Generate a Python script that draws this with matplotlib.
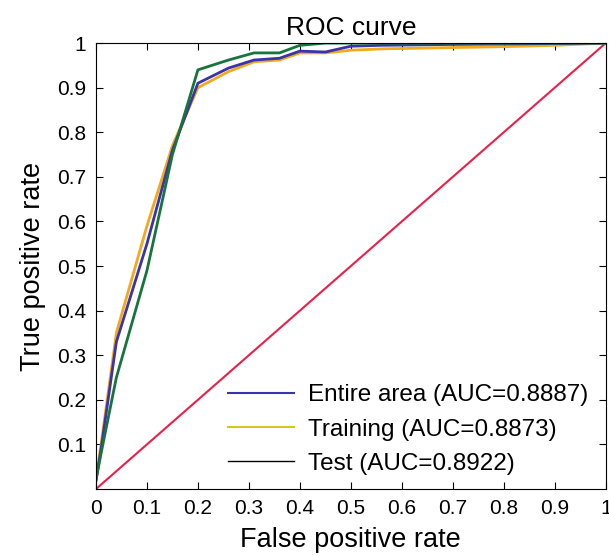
import matplotlib
matplotlib.use('Agg')
import matplotlib.pyplot as plt
from matplotlib.lines import Line2D

plt.rcParams['font.family'] = ['Liberation Sans', 'DejaVu Sans']

# ROC points
fpr = [0, 0.01, 0.04, 0.1, 0.15, 0.2, 0.26, 0.31, 0.36, 0.40, 0.45, 0.5, 0.56, 0.7, 0.8, 0.9, 1.0]
tpr_entire = [0.02, 0.09, 0.33, 0.55, 0.76, 0.91, 0.944, 0.962, 0.966, 0.982, 0.98, 0.993, 0.995, 0.997, 0.998, 0.999, 1.0]
tpr_train = [0.02, 0.10, 0.35, 0.59, 0.77, 0.90, 0.936, 0.958, 0.962, 0.978, 0.978, 0.984, 0.987, 0.99, 0.992, 0.995, 1.0]
tpr_test = [0.02, 0.08, 0.25, 0.49, 0.75, 0.94, 0.962, 0.978, 0.978, 0.995, 1.0, 1.0, 1.0, 1.0, 1.0, 1.0, 1.0]
labels = ['Entire area (AUC=0.8887)', 'Training (AUC=0.8873)', 'Test (AUC=0.8922)']

fig = plt.figure(figsize=(6.09, 5.56), dpi=100)
ax = fig.add_axes([0.1576, 0.1205, 0.837, 0.802])

ax.plot([0, 1], [0, 1], color='#e8204a', lw=1.5)
ax.plot(fpr, tpr_train, color='#f4a81c', lw=2)
ax.plot(fpr, tpr_entire, color='#3b34a8', lw=2)
ax.plot(fpr, tpr_test, color='#17743c', lw=2)

ax.set_xlim(0, 1)
ax.set_ylim(0, 1)
ax.set_xticks([i / 10 for i in range(11)])
ax.set_xticklabels(['0'] + ['0.%d' % i for i in range(1, 10)] + ['1'])
ax.set_yticks([i / 10 for i in range(1, 11)])
ax.set_yticklabels(['0.%d' % i for i in range(1, 10)] + ['1'])
ax.tick_params(direction='in', length=5, top=True, right=True, labelsize=15, pad=7)
ax.set_xlabel('False positive rate', fontsize=19.5, labelpad=7)
ax.set_ylabel('True positive rate', fontsize=19.5, labelpad=8)
ax.set_title('ROC curve', fontsize=19, pad=6)

handles = [Line2D([], [], color='#3b34a8', lw=1.5),
           Line2D([], [], color='#d2c81e', lw=1.5),
           Line2D([], [], color='black', lw=1)]
ax.legend(handles, labels, loc='lower right', frameon=False, fontsize=17.5,
          handlelength=2.7, handletextpad=0.6, labelspacing=0.5,
          borderaxespad=0, bbox_to_anchor=(0.985, 0.01))

fig.savefig('out.png', dpi=100)
